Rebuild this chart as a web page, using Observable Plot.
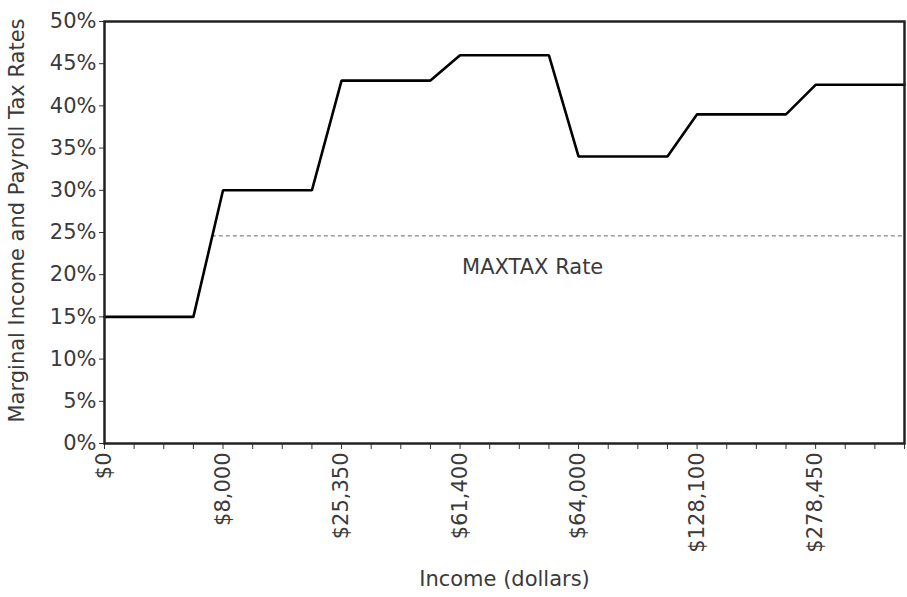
<!DOCTYPE html>
<html>
<head>
<meta charset="utf-8">
<script src="https://cdn.jsdelivr.net/npm/d3@7"></script>
<script src="https://cdn.jsdelivr.net/npm/@observablehq/plot@0.6"></script>
<style>
  html, body { margin: 0; padding: 0; background: #fff; }
  #chart svg { display: block; }
</style>
</head>
<body>
<div id="chart"></div>
<script>
// Category positions along the income axis (28 points, every 4th labelled)
const positions = d3.range(28);
const tickLabels = ["$0", "$8,000", "$25,350", "$61,400", "$64,000", "$128,100", "$278,450"];
const labelEvery = 4;
// Marginal income + payroll tax rate (%) at each position
const rates = [
  15, 15, 15, 15,
  30, 30, 30, 30,
  43, 43, 43, 43,
  46, 46, 46, 46,
  34, 34, 34, 34,
  39, 39, 39, 39,
  42.5, 42.5, 42.5, 42.5
];
const maxtaxRate = [24.6];
const maxtaxLabel = ["MAXTAX Rate"];
const yTicks = [0, 5, 10, 15, 20, 25, 30, 35, 40, 45, 50];
const xTitle = ["Income (dollars)"];
const yTitle = ["Marginal Income and Payroll Tax Rates"];

const data = positions.map((i) => ({i, rate: rates[i]}));

// Where the MAXTAX line meets the rate curve (first crossing)
let startX = 0;
for (let k = 0; k < rates.length - 1; k++) {
  const a = rates[k], b = rates[k + 1], m = maxtaxRate[0];
  if ((a - m) * (b - m) <= 0 && a !== b) { startX = k + (m - a) / (b - a); break; }
}
const ruleData = [{y: maxtaxRate[0], x1: startX, x2: positions[positions.length - 1]}];
const labelData = [{text: maxtaxLabel[0], x: 14.45, y: maxtaxRate[0]}];

const font = "DejaVu Sans, Verdana, sans-serif";
const fs = 21;
const ink = "#3a3a3a";

const chart = Plot.plot({
  width: 907,
  height: 597,
  marginLeft: 104,
  marginRight: 3,
  marginTop: 21,
  marginBottom: 154,
  style: {fontFamily: font, fontSize: fs + "px", color: ink, background: "#fff"},
  x: {domain: [0, 27]},
  y: {domain: [0, 50]},
  marks: [
    Plot.axisY({
      ticks: yTicks, tickFormat: (d) => d + "%", tickSize: 5, tickPadding: 3,
      label: null, fontSize: fs, stroke: "#333", fill: ink
    }),
    Plot.axisX({
      ticks: positions,
      tickFormat: (d) => d % labelEvery === 0 ? (tickLabels[d / labelEvery] ?? "") : "",
      tickRotate: -90, tickSize: 6, tickPadding: 3,
      label: null, fontSize: fs, stroke: "#333", fill: ink
    }),
    Plot.ruleY(ruleData, {y: "y", x1: "x1", x2: "x2", stroke: "#666", strokeWidth: 1, strokeDasharray: "4,3"}),
    Plot.text(labelData, {x: "x", y: "y", text: "text", dy: 31, fontSize: fs, fill: ink}),
    Plot.line(data, {x: "i", y: "rate", stroke: "#000", strokeWidth: 2.6, strokeLinejoin: "miter"}),
    Plot.frame({stroke: "#222", strokeWidth: 2.5}),
    Plot.text(xTitle, {frameAnchor: "bottom", dy: 142, text: (d) => d, fontSize: fs, fill: ink}),
    Plot.text(yTitle, {frameAnchor: "left", dx: -87, dy: -12, rotate: -90, textAnchor: "middle", text: (d) => d, fontSize: fs, fill: ink})
  ]
});

document.getElementById("chart").appendChild(chart);
</script>
</body>
</html>
